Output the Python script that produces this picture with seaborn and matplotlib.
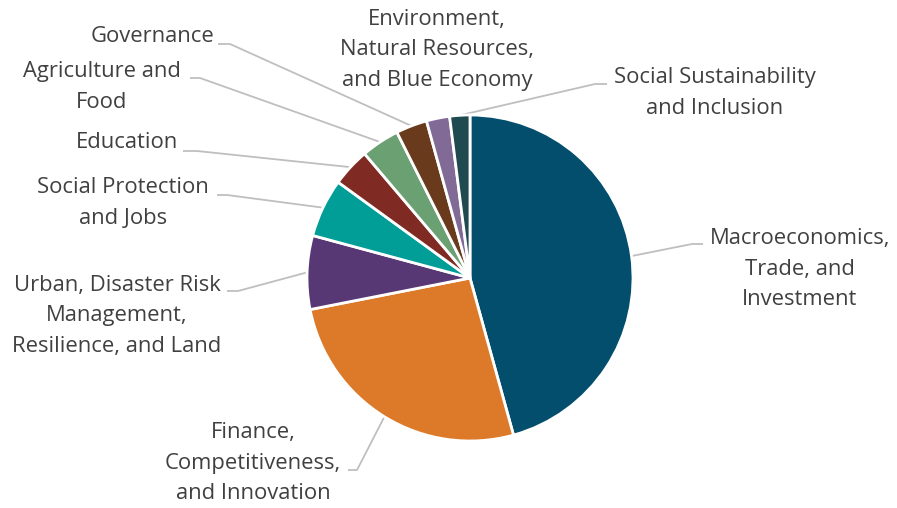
import numpy as np
import matplotlib
matplotlib.use("Agg")
import matplotlib.pyplot as plt
import seaborn as sns

# Share of portfolio by practice area (percent)
categories = [
    "Macroeconomics,\nTrade, and\nInvestment",
    "Finance,\nCompetitiveness,\nand Innovation",
    "Urban, Disaster Risk\nManagement,\nResilience, and Land",
    "Social Protection\nand Jobs",
    "Education",
    "Agriculture and\nFood",
    "Governance",
    "Environment,\nNatural Resources,\nand Blue Economy",
    "Social Sustainability\nand Inclusion",
]
shares = [45.7, 26.2, 7.3, 5.8, 3.8, 3.8, 3.1, 2.3, 2.0]
colors = ["#034E6C", "#DD7A2A", "#573874", "#009E97", "#7F2A22",
          "#6BA072", "#6A3A1D", "#826A97", "#1F4A50"]

sns.set_theme(style="white")
plt.rcParams["font.family"] = ["Open Sans", "DejaVu Sans"]

W, H = 897, 508
fig = plt.figure(figsize=(W / 100, H / 100), dpi=100)
ax = fig.add_axes([0, 0, 1, 1])


def py(y):
    """Convert a top-down pixel row to axis y."""
    return H - y


cx, cy, R = 470, 278, 163
wedges, _ = ax.pie(
    shares, colors=colors, startangle=90, counterclock=False,
    center=(cx, py(cy)), radius=R, frame=True,
    wedgeprops=dict(edgecolor="white", linewidth=2.0),
)
ax.set_xlim(0, W)
ax.set_ylim(0, H)
ax.set_aspect("equal")
ax.axis("off")

text_color = "#404040"
line_color = "#BFBFBF"
fs = 15.8

# label text anchor (x, y, ha) and leader elbow points (top-down pixel rows)
labels = [
    dict(xy=(800, 269), ha="center", path=[(692, 244), (703, 244)]),
    dict(xy=(253, 463), ha="center", path=[(357, 470), (348, 470)]),
    dict(xy=(117, 316), ha="center", path=[(238, 291), (227, 291)]),
    dict(xy=(123, 203), ha="center", path=[(227, 195), (217, 195)]),
    dict(xy=(178, 142), ha="right", path=[(197, 151), (183, 151)]),
    dict(xy=(102, 87), ha="center", path=[(200, 78), (190, 78)]),
    dict(xy=(214, 37), ha="right", path=[(230, 44), (218, 44)]),
    dict(xy=(437, 50), ha="center", path=None),
    dict(xy=(715, 93), ha="center", path=[(595, 84), (607, 84)]),
]

for w, name, lab in zip(wedges, categories, labels):
    ax.text(lab["xy"][0], py(lab["xy"][1]), name, ha=lab["ha"], va="center",
            multialignment="center", fontsize=fs, color=text_color,
            linespacing=1.62)
    if lab["path"] is None:
        continue
    mid = np.deg2rad((w.theta1 + w.theta2) / 2)
    x0 = cx + R * np.cos(mid)
    y0 = py(cy) + R * np.sin(mid)
    xs = [x0] + [p[0] for p in lab["path"]]
    ys = [y0] + [py(p[1]) for p in lab["path"]]
    ax.plot(xs, ys, color=line_color, lw=1.3, solid_capstyle="butt", zorder=0)

fig.savefig("out.png", dpi=100, facecolor="white")
